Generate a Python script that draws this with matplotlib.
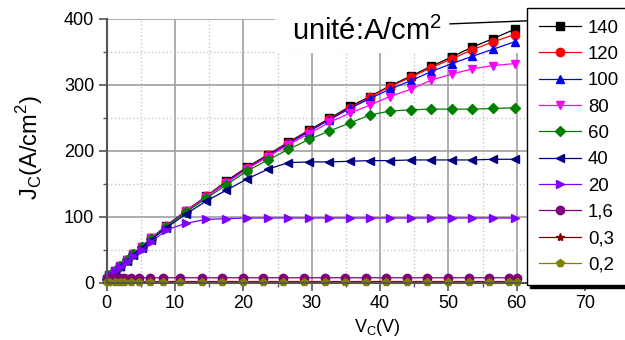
import matplotlib
matplotlib.use('Agg')
import matplotlib.pyplot as plt
from matplotlib.patches import Rectangle
from matplotlib.ticker import MultipleLocator

plt.rcParams['font.family'] = ['Liberation Sans', 'DejaVu Sans']
plt.rcParams['mathtext.fontset'] = 'custom'
plt.rcParams['mathtext.rm'] = 'Liberation Sans'

# V_C sample points (high-current curves and low-current curves)
vHigh = [0, 0.4, 1.2, 1.9, 2.9, 3.9, 5.1, 6.5, 8.7, 11.6, 14.6, 17.5, 20.5, 23.6,
         26.6, 29.6, 32.6, 35.6, 38.5, 41.4, 44.5, 47.5, 50.5, 53.5, 56.6, 59.7]
vLow = [0, 0.4, 1.2, 1.9, 2.6, 3.6, 4.7, 6.3, 8.3, 10.8, 13.9, 16.9, 19.9, 22.9,
        25.8, 28.9, 31.9, 34.9, 37.9, 40.9, 43.9, 46.9, 50.0, 53.0, 55.9, 58.9, 60.0]

j140 = [5, 12, 18, 25, 34, 43, 54, 67, 86, 109, 131, 154, 175, 194, 213, 231, 249,
        267, 282, 298, 313, 328, 342, 357, 370, 384]
j120 = [5, 12, 18, 25, 34, 43, 54, 67, 86, 109, 131, 153, 174, 193, 212, 230, 248,
        265, 281, 297, 311, 326, 339, 353, 365, 376]
j100 = [5, 12, 18, 25, 34, 43, 54, 67, 86, 108, 130, 152, 173, 192, 211, 229, 247,
        264, 279, 293, 306, 320, 332, 343, 354, 365]
j80 = [5, 12, 18, 25, 34, 43, 54, 67, 85, 108, 130, 151, 172, 191, 209, 226, 243,
       257, 269, 282, 293, 307, 316, 324, 329, 332]
j60 = [5, 12, 18, 25, 34, 43, 54, 66, 85, 107, 128, 148, 169, 186, 202, 217, 230,
       242, 254, 260, 262, 263, 263, 263, 264, 265]
j40 = [5, 12, 18, 25, 33, 42, 53, 65, 83, 104, 124, 140, 157, 172, 182, 183, 183,
       184, 185, 185, 186, 186, 186, 186, 187, 187]
j20 = [5, 11, 17, 24, 32, 41, 50, 61, 80, 90, 96, 97, 98, 98, 98, 98, 98, 98, 98,
       98, 98, 98, 98, 98, 98, 98]
j1_6 = [5, 7.5, 7.5, 7.5, 7.5, 7.5, 7.5, 7.5, 7.5, 7.5, 7.5, 7.5, 7.5, 7.5, 7.5,
        7.5, 7.5, 7.5, 7.5, 7.5, 7.5, 7.5, 7.5, 7.5, 7.5, 7.5, 7.5]
j0_3 = [2, 2, 2, 2, 2, 2, 2, 2, 2, 2, 2, 2, 2, 2, 2, 2, 2, 2, 2, 2, 2, 2, 2, 2,
        2, 2, 2]
j0_2 = [1, 1, 1, 1, 1, 1, 1, 1, 1, 1, 1, 1, 1, 1, 1, 1, 1, 1, 1, 1, 1, 1, 1, 1,
        1, 1, 1]

labels = ['140', '120', '100', '80', '60', '40', '20', '1,6', '0,3', '0,2']
series = [(vHigh, j140), (vHigh, j120), (vHigh, j100), (vHigh, j80), (vHigh, j60),
          (vHigh, j40), (vHigh, j20), (vLow, j1_6), (vLow, j0_3), (vLow, j0_2)]
colors = ['#000000', '#ff0000', '#0000ff', '#ff00ff', '#008000', '#000080',
          '#8000ff', '#800080', '#800000', '#808000']
markers = ['s', 'o', '^', 'v', 'D', '<', '>', 'o', '*', 'p']

fig = plt.figure(figsize=(6.25, 3.4), dpi=100)
ax = fig.add_axes([0.1707, 0.1685, 0.8293, 0.7765])

for (x, y), lab, c, m in zip(series, labels, colors, markers):
    ms = 5 if m == 'D' else 6
    ax.plot(x, y, color=c, marker=m, ms=ms, lw=0.9, label=lab, clip_on=False)

ax.set_xlim(0, 75.85)
ax.set_ylim(0, 400)
ax.xaxis.set_major_locator(MultipleLocator(10))
ax.xaxis.set_minor_locator(MultipleLocator(5))
ax.yaxis.set_major_locator(MultipleLocator(100))
ax.yaxis.set_minor_locator(MultipleLocator(50))

ax.grid(which='major', color='#a0a0a0', lw=1.2)
ax.grid(which='minor', color='#c8c8c8', ls=':', lw=1)

# white box behind the unit note
ax.add_patch(Rectangle((24.6, 348), 52, 60, facecolor='white', edgecolor='none', zorder=1.8))

for s in ['top', 'right']:
    ax.spines[s].set_visible(False)
for s in ['left', 'bottom']:
    ax.spines[s].set_color('#555555')
    ax.spines[s].set_linewidth(1.5)

ax.tick_params(which='major', length=6, width=1.2, color='#555555', labelsize=13, pad=3)
ax.tick_params(which='minor', length=3, width=1.0, color='#555555')

ax.set_xlabel('V$_\\mathregular{C}$(V)', fontsize=13)
ax.xaxis.set_label_coords((377 - 106.7) / 518.3, -0.13)
ax.set_ylabel('J$_\\mathregular{C}$(A/cm$^\\mathregular{2}$)', fontsize=17)
ax.yaxis.set_label_coords(-0.119, 0.514)

leg = ax.legend(loc='upper left', bbox_to_anchor=(527 / 625, 1 - 8 / 340),
                bbox_transform=fig.transFigure, fontsize=13.4, fancybox=False,
                edgecolor='black', framealpha=1, borderaxespad=0, handlelength=2.3,
                labelspacing=0.5, borderpad=0.62, handletextpad=0.35,
                shadow={'color': 'k', 'alpha': 1})
leg.get_frame().set_linewidth(1.0)

fig.text(292 / 625, 1 - 40 / 340, 'unité:A/cm$^\\mathregular{2}$', fontsize=21, va='baseline')
ax.annotate('', xy=(548 / 625, 1 - 20 / 340), xycoords='figure fraction',
            xytext=(447 / 625, 1 - 24 / 340), textcoords='figure fraction',
            arrowprops=dict(arrowstyle='-|>', color='k', lw=1, mutation_scale=10))

fig.savefig('out.png', dpi=100)
